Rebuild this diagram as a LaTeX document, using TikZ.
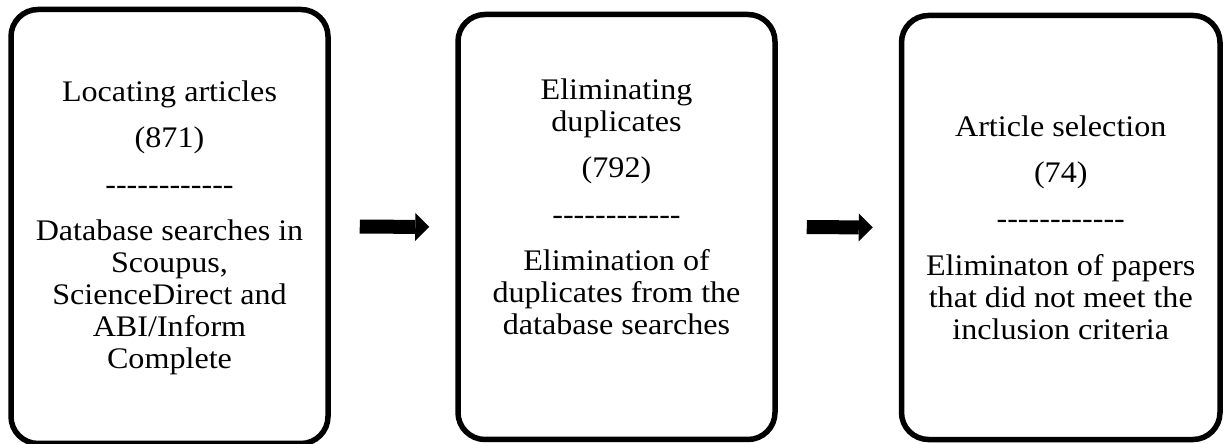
\documentclass[tikz,border=0pt]{standalone}
\usepackage{fontspec}
\setmainfont{Liberation Serif}[FakeStretch=1.075]
\usetikzlibrary{arrows.meta}
\newcommand{\DashRow}{-\kern0pt-\kern0pt-\kern0pt-\kern0pt-\kern0pt-\kern0pt-\kern0pt-\kern0pt-\kern0pt-\kern0pt-\kern0pt-}
\begin{document}
\begin{tikzpicture}
    [StageNode/.style={rectangle, rounded corners=0.54cm, draw=black, line width=0.11cm},
    StageText/.style={align=center, inner sep=0pt, font=\fontsize{17}{18.2}\selectfont},
    FlowArrow/.style={line width=0.28cm, -{Triangle[length=0.28cm, width=0.56cm, line width=0pt]}, shorten <=0.58cm, shorten >=0.52cm}]
     \useasboundingbox (0,0) rectangle (24.56,8.86);
     \node[StageNode, minimum width=6.34cm, minimum height=8.68cm] (locating) at (3.39,4.33){};
     \node[StageNode, minimum width=6.34cm, minimum height=8.5cm] (duplicates) at (12.33,4.32){};
     \node[StageNode, minimum width=6.37cm, minimum height=8.48cm] (selection) at (21.215,4.31){};
     \node[StageText] (locatingText) at (3.39,4.30){Locating articles\\[0.29cm] (871)\\[0.29cm] \DashRow\\[0.29cm] Database searches in\\ Scoupus,\\ ScienceDirect and\\ ABI/Inform\\ Complete};
     \node[StageText] (duplicatesText) at (12.33,4.72){Eliminating\\ duplicates\\[0.29cm] (792)\\[0.29cm] \DashRow\\[0.29cm] Elimination of\\ duplicates from the\\ database searches};
     \node[StageText] (selectionText) at (21.215,4.31){Article selection\\[0.29cm] (74)\\[0.29cm] \DashRow\\[0.29cm] Eliminaton of papers\\ that did not meet the\\ inclusion criteria};
     \draw[FlowArrow] (locating.east) -- (duplicates.west);
     \draw[FlowArrow] (duplicates.east) -- (selection.west);
\end{tikzpicture}
\end{document}
